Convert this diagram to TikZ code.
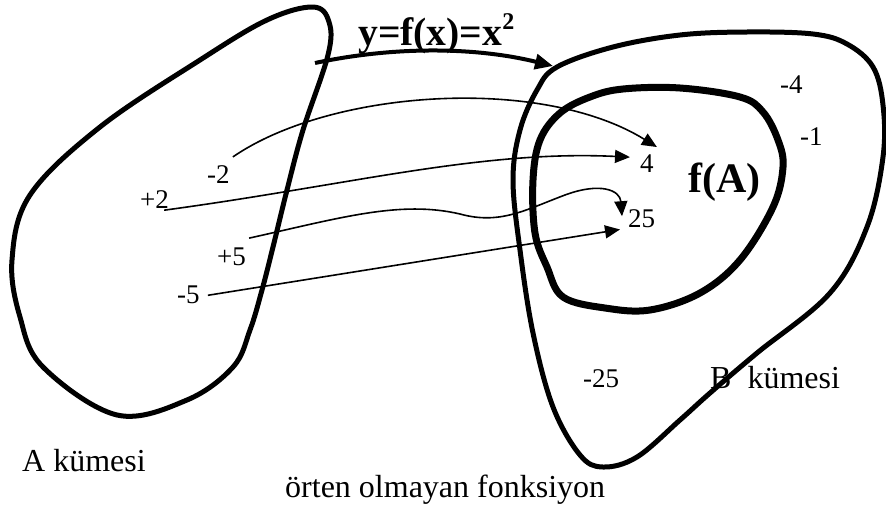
\documentclass[tikz,border=0pt]{standalone}
\usepackage{fontspec}
\setmainfont{Liberation Serif}
\usetikzlibrary{arrows.meta}

\begin{document}
\begin{tikzpicture}[x=1pt, y=-1pt,
  kume/.style={line width=5pt, line join=round},
  imge/.style={line width=7pt},
  ok/.style={line width=1.6pt, -{Triangle[length=15pt,width=13pt]}},
  num/.style={font=\fontsize{27}{29}\selectfont, inner sep=0pt, anchor=base west},
  lbl/.style={font=\fontsize{32}{34}\selectfont, inner sep=0pt, anchor=base west}]

\useasboundingbox (0,0) rectangle (886,506);

% ---------- A kumesi ----------
\draw[kume] plot[smooth cycle, tension=0.6] coordinates {(267,20) (313,7) (329,22) (328,55)
  (303,130) (287,190) (273,247) (262,290) (250,330) (233,367) (187,400) (117,415)
  (43,367) (20,317) (12,260) (30,195) (100,127) (200,60)};

\node[lbl] (akume) at (22,471) {A kümesi};

\node[num] (m2) at (207,183) {-2};
\node[num] (p2) at (140,208) {+2};
\node[num] (p5) at (217,265) {+5};
\node[num] (m5) at (177,303) {-5};

% ---------- B kumesi ----------
\draw[kume] plot[smooth cycle, tension=0.6] coordinates {(520,130) (537,90) (557,67) (613,47)
  (680,35) (747,32) (813,34) (847,44) (873,67) (883,105) (883,157) (867,227) (830,293)
  (757,353) (710,393) (680,420) (637,457) (603,467) (580,455) (553,407) (533,333)
  (520,250) (513,180)};

% f(A)
\draw[imge] plot[smooth cycle, tension=0.6] coordinates {(540,140) (560,113) (590,97) (623,89)
  (680,88) (740,97) (763,112) (778,140) (783,167) (773,207) (740,260) (700,293) (650,310)
  (605,308) (563,297) (547,267) (535,233) (533,180)};

\node[font=\bfseries\fontsize{42}{44}\selectfont, inner sep=0pt, anchor=base west] (fA) at (688,192) {f(A)};

\node[num] (b4) at (640,172) {4};
\node[num] (b25) at (628,227) {25};
\node[num] (bm4) at (780,93) {-4};
\node[num] (bm1) at (800,145) {-1};
\node[num] (bm25) at (583,387) {-25};

\node[lbl] (bkume) at (710,388) {B\ \ kümesi};

% ---------- fonksiyon ----------
\coordinate (fbas) at (315,63);
\coordinate (fuc) at (553,66);
\draw[line width=4pt, -{Triangle[length=18pt,width=15pt]}] (fbas) .. controls (400,45) and (480,48) .. (fuc);

\node[font=\bfseries\fontsize{39.6}{42}\selectfont, inner sep=0pt, anchor=base west] (kural) at (358,45)
  {y=f(x)=x\raisebox{16pt}{\fontsize{24}{26}\selectfont 2}};

\draw[ok] ([shift={(3,-8)}]m2.north east) .. controls (330,90) and (540,75) .. ([shift={(3,-7)}]b4.north east);
\draw[ok] ([shift={(-5,2)}]p2.south east) .. controls (350,185) and (480,150) .. ([shift={(-10,-6)}]b4.west);
\draw[ok] ([shift={(3,-9)}]p5.north east) .. controls (340,218) and (400,200) .. (460,214)
  .. controls (500,225) and (525,210) .. (565,195)
  .. controls (600,182) and (620,190) .. ([shift={(-6,-2)}]b25.west);
\draw[ok] ([shift={(8,1)}]m5.east) -- ([shift={(-8,2)}]b25.south west);

\node[lbl] (baslik) at (285,497) {örten olmayan fonksiyon};

\end{tikzpicture}
\end{document}
